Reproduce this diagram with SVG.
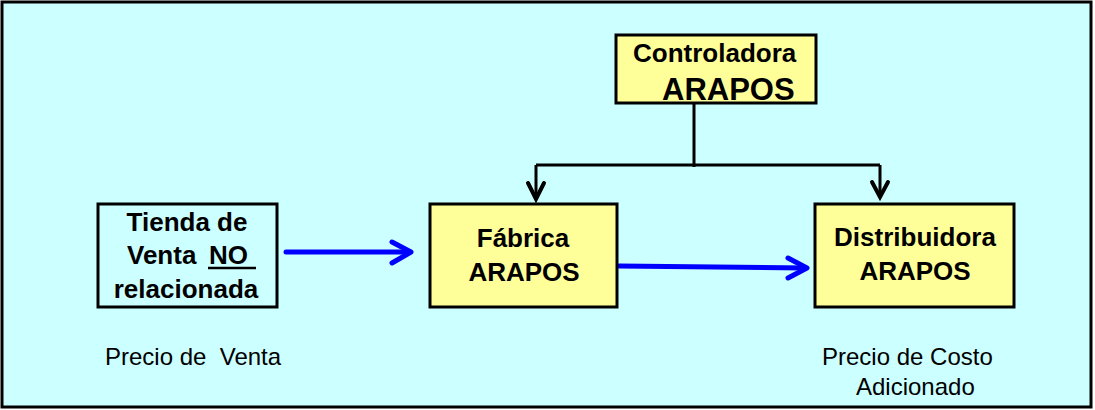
<svg xmlns="http://www.w3.org/2000/svg" width="1095" height="410" viewBox="0 0 1095 410">
  <style>
    .box { fill: #FFFF99; stroke: #000; stroke-width: 3; }
    .plain { fill: #CCFFFF; stroke: #000; stroke-width: 3; }
    .title { font-family: "Liberation Sans", Arial, sans-serif; font-weight: bold; font-size: 26px; fill: #000; }
    .big { font-family: "Liberation Sans", Arial, sans-serif; font-weight: bold; font-size: 31px; fill: #000; }
    .note { font-family: "Liberation Sans", Arial, sans-serif; font-size: 24px; fill: #000; }
    .tree { fill: none; stroke: #000; stroke-width: 3; }
    .head { fill: none; stroke: #000; stroke-width: 4; stroke-linecap: round; stroke-linejoin: miter; }
    .flow { fill: none; stroke: #0000FF; stroke-width: 5; stroke-linecap: round; stroke-linejoin: round; }
  </style>

  <!-- background frame -->
  <rect x="2" y="2" width="1089" height="405" fill="#CCFFFF" stroke="#000" stroke-width="3"/>

  <!-- connectors -->
  <g id="connectors">
    <!-- ownership tree from the holding company -->
    <path class="tree" d="M694 103 V167 M536 165 H880 M536 165 V198 M880 165 V196"/>
    <path class="head" d="M528 183 L536 199 L544 183"/>
    <path class="head" d="M872 182 L880 197 L888 182"/>
    <!-- sales flow -->
    <path class="flow" d="M286 252 H410"/>
    <path class="flow" d="M392 242 L411 252 L392 263"/>
    <path class="flow" d="M619 266 L806 268"/>
    <path class="flow" d="M788 258 L807 268 L788 278"/>
  </g>

  <g id="controladora">
    <rect class="box" x="616" y="35" width="200" height="68"/>
    <text class="title" x="633" y="62">Controladora</text>
    <text class="big" x="662" y="100">ARAPOS</text>
  </g>

  <g id="tienda">
    <rect class="plain" x="98" y="204" width="179" height="103"/>
    <text class="title" x="187" y="231" text-anchor="middle">Tienda de</text>
    <text class="title" x="127" y="264">Venta <tspan x="209">NO</tspan></text>
    <line x1="208" y1="268" x2="256" y2="268" stroke="#000" stroke-width="2.5"/>
    <text class="title" x="186" y="298" text-anchor="middle">relacionada</text>
  </g>

  <g id="fabrica">
    <rect class="box" x="430" y="204" width="187" height="103"/>
    <text class="title" x="523" y="247" text-anchor="middle">Fábrica</text>
    <text class="title" x="524" y="281" text-anchor="middle">ARAPOS</text>
  </g>

  <g id="distribuidora">
    <rect class="box" x="815" y="204" width="199" height="103"/>
    <text class="title" x="915" y="246" text-anchor="middle">Distribuidora</text>
    <text class="title" x="915" y="280" text-anchor="middle">ARAPOS</text>
  </g>

  <g id="labels">
    <text class="note" x="105" y="365" xml:space="preserve">Precio de  Venta</text>
    <text class="note" x="822" y="365">Precio de Costo</text>
    <text class="note" x="856" y="395">Adicionado</text>
  </g>
</svg>
